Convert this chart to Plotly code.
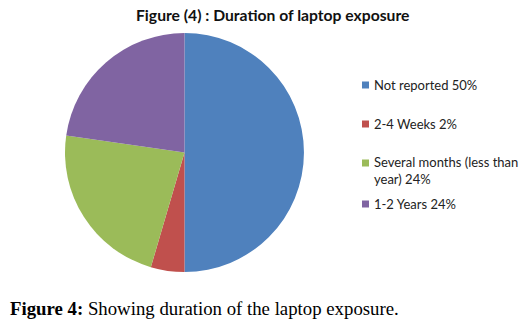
import plotly.graph_objects as go

categories = ["Not reported 50%", "2-4 Weeks 2%", "Several months (less than<br>year) 24%", "1-2 Years 24%"]
values = [22, 2, 10, 10]
colors = ["#4F81BD", "#C0504D", "#9BBB59", "#8064A2"]
legend_y = [85, 124, 170, 204]  # pixel rows of legend entries

W, H = 528, 326

fig = go.Figure()
fig.add_trace(go.Pie(
    labels=categories, values=values, sort=False, direction="clockwise", rotation=0,
    marker=dict(colors=colors, line=dict(width=0)),
    textinfo="none", hoverinfo="label+value", showlegend=False,
    domain=dict(x=[65 / W, 304 / W], y=[1 - 272 / H, 1 - 33 / H]),
))

shapes = []
annotations = []
for lab, col, yy in zip(categories, colors, legend_y):
    first_y = yy - (7 if "<br>" in lab else 0)
    shapes.append(dict(type="rect", xref="paper", yref="paper",
                       x0=362 / W, x1=369 / W, y0=1 - (first_y + 3.5) / H, y1=1 - (first_y - 3.5) / H,
                       fillcolor=col, line=dict(width=0)))
    annotations.append(dict(text=lab, xref="paper", yref="paper", x=372 / W, y=1 - yy / H,
                            xanchor="left", yanchor="middle", align="left", showarrow=False,
                            font=dict(family="Lato", size=13, color="#222")))

annotations.append(dict(text="<b>Figure (4) : Duration of laptop exposure</b>", xref="paper", yref="paper",
                        x=272 / W, y=1 - 15 / H, xanchor="center", yanchor="middle", showarrow=False,
                        font=dict(family="Lato", size=15.7, color="#111")))
annotations.append(dict(text="<b>Figure 4:</b> Showing duration of the laptop exposure.", xref="paper", yref="paper",
                        x=8 / W, y=1 - 308 / H, xanchor="left", yanchor="middle", showarrow=False,
                        font=dict(family="Liberation Serif", size=18.8, color="#000")))

fig.update_layout(width=W, height=H, margin=dict(l=0, r=0, t=0, b=0),
                  paper_bgcolor="white", plot_bgcolor="white",
                  shapes=shapes, annotations=annotations)
fig.write_html("out.html")
